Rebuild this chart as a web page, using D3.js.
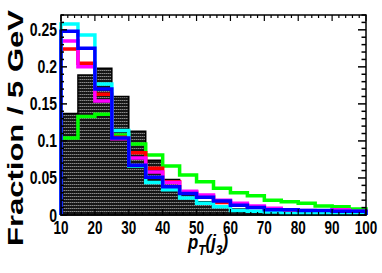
<!DOCTYPE html>
<html>
<head>
<meta charset="utf-8">
<script src="https://cdn.jsdelivr.net/npm/d3@7"></script>
<style>
  body { margin: 0; background: #fff; }
  svg { display: block; }
  text { font-family: "Liberation Sans", Arial, sans-serif; font-weight: bold; }
</style>
</head>
<body>
<svg id="chart" width="382" height="273"></svg>
<script>
// bin low edges, 5 GeV wide
const binEdges = [10, 15, 20, 25, 30, 35, 40, 45, 50, 55, 60, 65, 70, 75, 80, 85, 90, 95]
const binWidth = 5

const blackHist = [0.137, 0.189, 0.198, 0.160, 0.113, 0.074, 0.048, 0.030, 0.018, 0.012, 0.008, 0.005, 0.003, 0.002, 0.0015, 0.001, 0.001, 0.0008]
const greenHist = [0.104, 0.133, 0.136, 0.108, 0.096, 0.081, 0.066, 0.054, 0.045, 0.036, 0.030, 0.026, 0.020, 0.018, 0.016, 0.012, 0.011, 0.008]
const redHist = [0.224, 0.205, 0.163, 0.105, 0.084, 0.063, 0.045, 0.031, 0.025, 0.017, 0.014, 0.011, 0.008, 0.006, 0.005, 0.004, 0.006, 0.004]
const magentaHist = [0.235, 0.200, 0.154, 0.103, 0.077, 0.058, 0.044, 0.032, 0.027, 0.020, 0.016, 0.012, 0.009, 0.007, 0.006, 0.005, 0.007, 0.005]
const cyanHist = [0.258, 0.243, 0.177, 0.114, 0.066, 0.044, 0.034, 0.023, 0.016, 0.011, 0.006, 0.005, 0.004, 0.002, 0.002, 0.002, 0.002, 0.002]
const blueHist = [0.248, 0.225, 0.170, 0.104, 0.067, 0.051, 0.038, 0.029, 0.024, 0.019, 0.013, 0.010, 0.007, 0.007, 0.006, 0.006, 0.005, 0.005]

const xTicks = [10, 20, 30, 40, 50, 60, 70, 80, 90, 100]
const yTicks = [0, 0.05, 0.1, 0.15, 0.2, 0.25]
const yTickLabels = ["0", "0.05", "0.1", "0.15", "0.2", "0.25"]

const svg = d3.select("#chart")
const plot = {left: 61, right: 366, top: 15, bottom: 215}

const x = d3.scaleLinear().domain([10, 100]).range([plot.left, plot.right])
const y = d3.scaleLinear().domain([0, 0.27]).range([plot.bottom, plot.top])

// ROOT style hatch for the filled histogram
const defs = svg.append("defs")
const pat = defs.append("pattern")
  .attr("id", "hatch")
  .attr("patternUnits", "userSpaceOnUse")
  .attr("width", 4).attr("height", 3)
pat.append("rect").attr("width", 4).attr("height", 3).attr("fill", "#161616")
pat.append("line")
  .attr("x1", 0).attr("x2", 4).attr("y1", 1.5).attr("y2", 1.5)
  .attr("stroke", "#8a8a8a").attr("stroke-width", 1)
  .attr("stroke-dasharray", "1.5,0.5")

const stepPoints = vals => {
  let pts = [[binEdges[0], 0]]
  vals.forEach((v, i) => {
    pts.push([binEdges[i], v])
    pts.push([binEdges[i] + binWidth, v])
  })
  pts.push([binEdges[binEdges.length - 1] + binWidth, 0])
  return pts
}
const line = d3.line().x(d => x(d[0])).y(d => y(d[1]))

// filled black histogram
svg.append("path")
  .attr("d", line(stepPoints(blackHist)) + "Z")
  .attr("fill", "url(#hatch)")
  .attr("stroke", "#000")
  .attr("stroke-width", 1.5)

const series = [
  {vals: greenHist, color: "#00ff00"},
  {vals: redHist, color: "#ff0000"},
  {vals: magentaHist, color: "#ff00ff"},
  {vals: cyanHist, color: "#00ffff"},
  {vals: blueHist, color: "#0000ff"}
]
series.forEach(s => {
  svg.append("path")
    .attr("d", line(stepPoints(s.vals)))
    .attr("fill", "none")
    .attr("stroke", s.color)
    .attr("stroke-width", 3.5)
    .attr("stroke-linejoin", "miter")
})

// frame
svg.append("rect")
  .attr("x", plot.left).attr("y", plot.top)
  .attr("width", plot.right - plot.left).attr("height", plot.bottom - plot.top)
  .attr("fill", "none").attr("stroke", "#000").attr("stroke-width", 1.5)

// ticks, inward on all four sides
const g = svg.append("g").attr("stroke", "#000")
d3.range(10, 100.1, 2).forEach(v => {
  const len = v % 10 === 0 ? 6 : 3
  g.append("line").attr("x1", x(v)).attr("x2", x(v)).attr("y1", plot.top).attr("y2", plot.top + len).attr("stroke-width", 1.2)
  g.append("line").attr("x1", x(v)).attr("x2", x(v)).attr("y1", plot.bottom).attr("y2", plot.bottom - len).attr("stroke-width", 1.2)
})
d3.range(0, 0.2701, 0.01).forEach(v => {
  const major = Math.abs(v * 20 - Math.round(v * 20)) < 1e-6
  g.append("line").attr("x1", plot.left).attr("x2", plot.left + (major ? 6 : 3)).attr("y1", y(v)).attr("y2", y(v)).attr("stroke-width", 1.5)
  g.append("line").attr("x1", plot.right).attr("x2", plot.right - (major ? 8 : 4.5)).attr("y1", y(v)).attr("y2", y(v)).attr("stroke-width", 1.5)
})

// tick labels
yTicks.forEach((v, i) => {
  svg.append("text")
    .attr("transform", `translate(57,${y(v) + 6.5}) scale(0.78,1)`)
    .attr("text-anchor", "end")
    .attr("font-size", 18)
    .text(yTickLabels[i])
})
xTicks.forEach(v => {
  svg.append("text")
    .attr("transform", `translate(${x(v)},234) scale(0.75,1)`)
    .attr("text-anchor", "middle")
    .attr("font-size", 18)
    .text(v)
})

// axis titles
svg.append("text")
  .attr("transform", "translate(23,128) scale(0.72,1) rotate(-90)")
  .attr("text-anchor", "middle")
  .attr("font-size", 31)
  .text("Fraction / 5 GeV")

const xt = svg.append("text")
  .attr("transform", "translate(188,249) scale(0.8,1)")
  .attr("font-size", 21)
  .attr("font-style", "italic")
xt.append("tspan").text("p")
xt.append("tspan").attr("dy", 6).attr("font-size", 15).text("T")
xt.append("tspan").attr("dy", -6).text("(j")
xt.append("tspan").attr("dy", 6).attr("font-size", 15).text("3")
xt.append("tspan").attr("dy", -6).text(")")
</script>
</body>
</html>
